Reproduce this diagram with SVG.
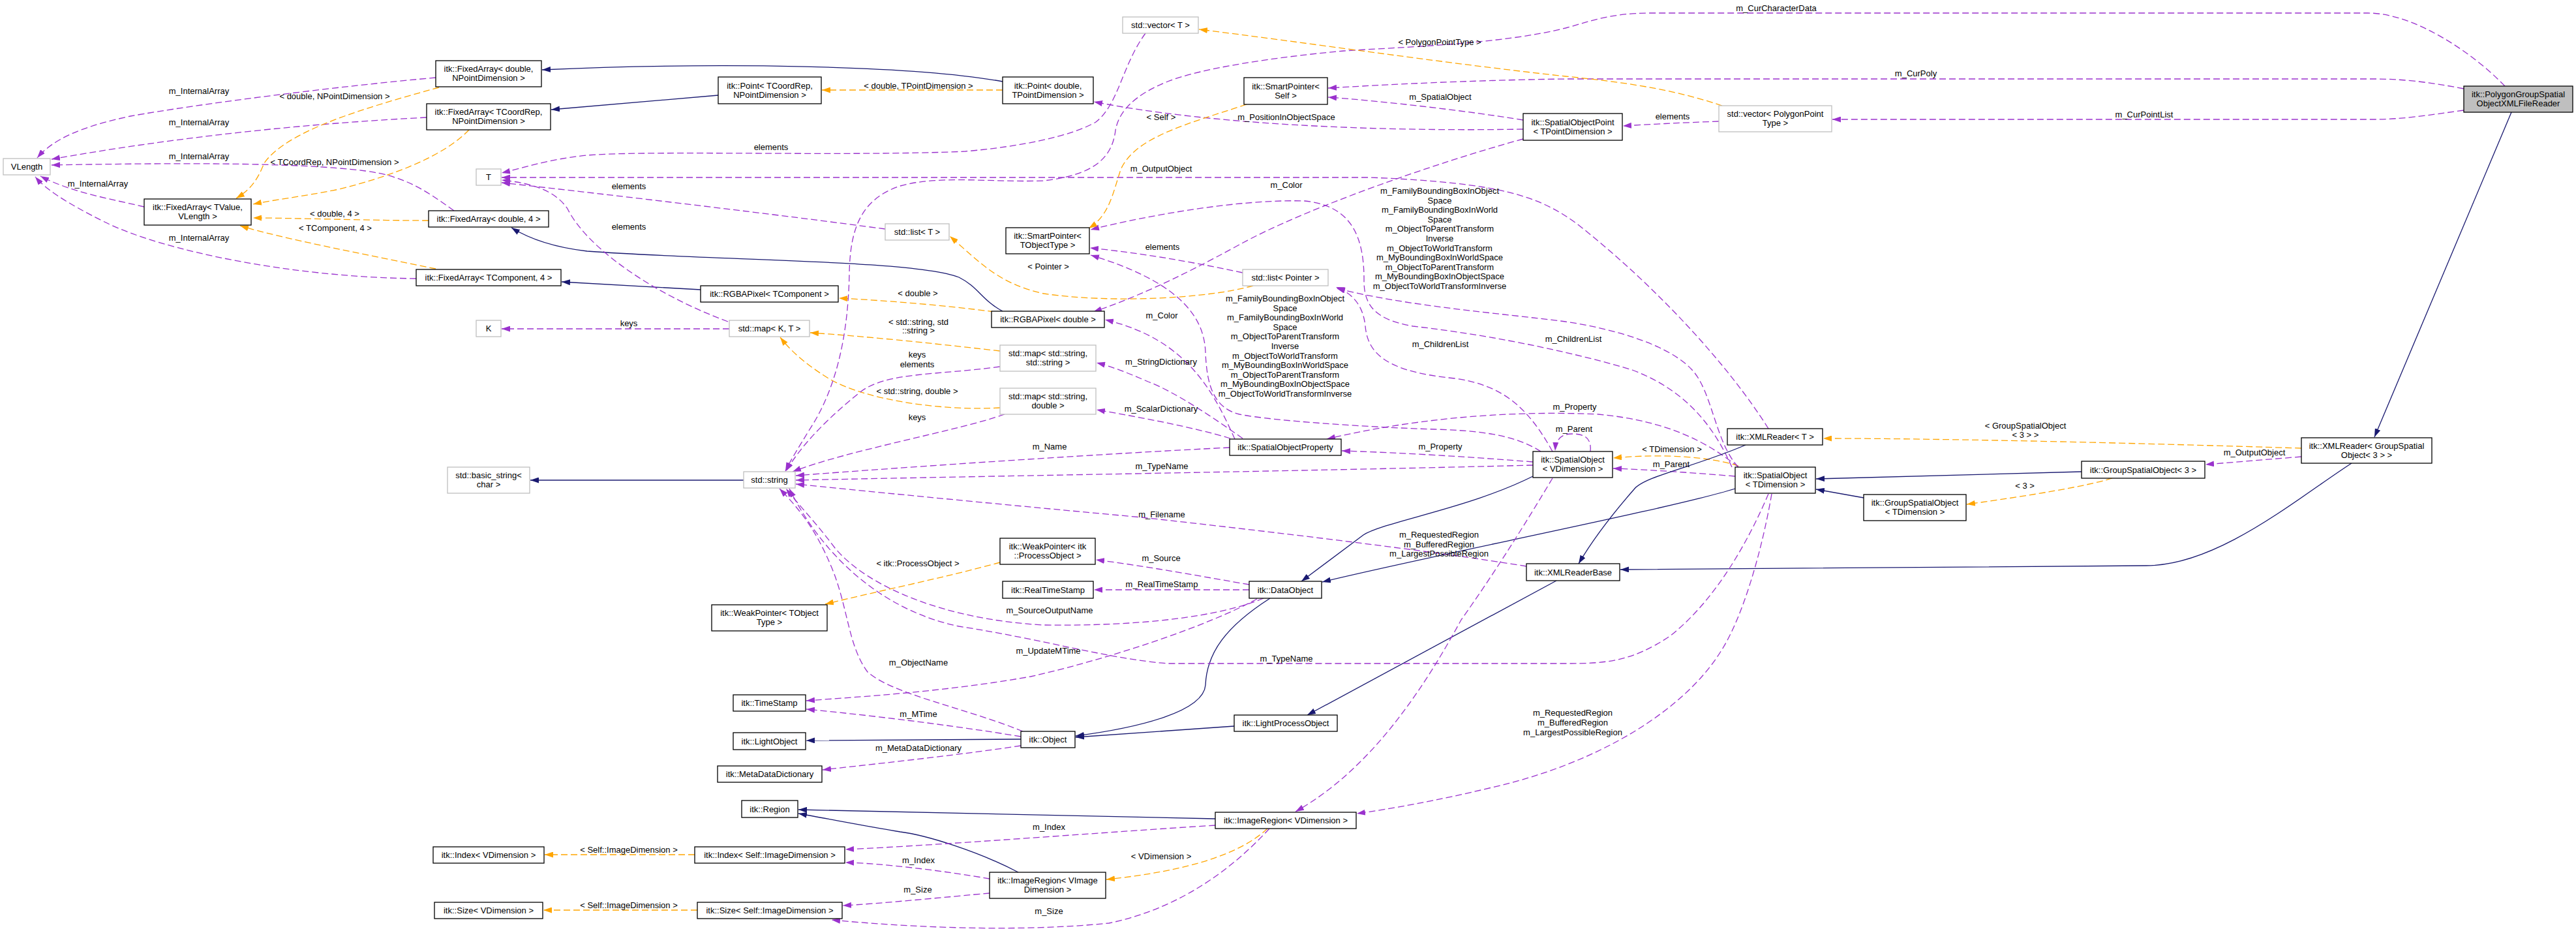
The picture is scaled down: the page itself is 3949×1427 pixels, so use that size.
<svg xmlns="http://www.w3.org/2000/svg" width="3949" height="1427" viewBox="0 0 3949 1427">
<defs>
<style>
text{font-family:"Liberation Sans",Arial,sans-serif;font-size:13px;text-anchor:middle;fill:#000}
.n rect{fill:#fff;stroke:#000;stroke-width:1.3}
.g rect{stroke:#bfbfbf}
.r rect{fill:#bfbfbf}
#edges path{fill:none;stroke-width:1.3}
#edges .u{stroke:#9a32cd;stroke-dasharray:10,5;marker-end:url(#ap)}
#edges .t{stroke:#ffa500;stroke-dasharray:10,5;marker-end:url(#ao)}
#edges .i{stroke:#191970;marker-end:url(#ab)}
</style>
<marker id="ap" viewBox="0 0 13 9" refX="13" refY="4.5" markerWidth="13" markerHeight="9" markerUnits="userSpaceOnUse" orient="auto"><path d="M0,0 L13,4.5 L0,9 z" fill="#9a32cd"/></marker>
<marker id="ao" viewBox="0 0 13 9" refX="13" refY="4.5" markerWidth="13" markerHeight="9" markerUnits="userSpaceOnUse" orient="auto"><path d="M0,0 L13,4.5 L0,9 z" fill="#ffa500"/></marker>
<marker id="ab" viewBox="0 0 13 9" refX="13" refY="4.5" markerWidth="13" markerHeight="9" markerUnits="userSpaceOnUse" orient="auto"><path d="M0,0 L13,4.5 L0,9 z" fill="#191970"/></marker>
</defs>
<rect width="3949" height="1427" fill="#fff"/>
<g id="edges">
<path class="u" d="M668,119 C520,132 300,160 200,178 C120,195 80,215 57,242"/>
<path class="u" d="M654,180 C500,188 300,205 79,244"/>
<path class="u" d="M696,323 C650,290 620,270 560,262 C450,248 250,250 79,253"/>
<path class="u" d="M221,317 C170,305 110,295 62,270"/>
<path class="u" d="M638,427 C450,425 250,385 160,340 C100,310 70,290 54,271"/>
<path class="t" d="M673,134 C560,165 440,200 405,250 C395,275 385,290 362,304"/>
<path class="t" d="M719,199 C680,240 600,270 520,290 C460,302 420,306 388,313"/>
<path class="t" d="M657,338 C560,338 450,334 388,334"/>
<path class="t" d="M668,412 C560,390 430,365 368,346"/>
<path class="i" d="M1537,125 C1400,100 1100,95 831,107"/>
<path class="i" d="M1101,146 L845,168"/>
<path class="t" d="M1537,138 L1260,138"/>
<path class="i" d="M1537,477 C1505,460 1500,440 1470,425 C1400,398 1100,400 900,385 C840,378 805,362 784,349"/>
<path class="i" d="M1074,444 L861,432"/>
<path class="t" d="M1524,478 C1450,468 1350,460 1286,457"/>
<path class="u" d="M1756,51 C1720,100 1715,160 1680,187 C1640,210 1560,225 1480,232 C1300,240 1000,230 900,238 C840,244 800,258 769,265"/>
<path class="u" d="M1357,351 C1200,330 950,300 769,280"/>
<path class="u" d="M1116,493 C1000,450 900,380 870,320 C850,290 810,280 769,276"/>
<path class="u" d="M2711,657 C2650,560 2540,440 2420,345 C2360,300 2300,280 2100,272 L769,272"/>
<path class="u" d="M1118,504 L769,504"/>
<path class="t" d="M1533,538 C1420,525 1320,515 1242,510"/>
<path class="t" d="M1533,625 C1450,630 1330,615 1270,580 C1230,555 1210,535 1196,517"/>
<path class="u" d="M1533,562 C1440,575 1360,570 1320,600 C1270,640 1230,680 1205,722"/>
<path class="u" d="M1540,635 C1470,660 1300,690 1215,723"/>
<path class="u" d="M3840,132 C3790,80 3700,20 3630,20 L2530,20 C2470,20 2440,32 2400,43 C2300,68 2150,72 2060,78 C1950,88 1840,105 1790,125 C1740,145 1715,170 1710,200 C1705,240 1680,268 1600,277 C1520,280 1440,268 1380,285 C1320,305 1303,350 1302,420 C1300,520 1280,600 1240,660 C1225,685 1212,705 1204,722"/>
<path class="u" d="M1885,686 C1700,695 1400,715 1220,729"/>
<path class="u" d="M2350,713 C2000,722 1500,730 1220,736"/>
<path class="u" d="M1905,672 C1860,640 1800,600 1760,585 C1730,572 1705,562 1681,556"/>
<path class="u" d="M1886,672 C1830,655 1750,640 1681,628"/>
<path class="u" d="M2350,708 C2250,700 2150,694 2057,691"/>
<path class="u" d="M2665,716 C2620,680 2560,645 2450,635 C2300,628 2150,645 2034,673"/>
<path class="u" d="M2438,692 C2440,672 2430,665 2410,665 C2392,665 2385,675 2384,691"/>
<path class="u" d="M2660,730 C2600,725 2530,720 2473,718"/>
<path class="t" d="M2665,714 C2620,700 2550,695 2473,702"/>
<path class="u" d="M2655,716 C2630,660 2590,600 2502,567 C2430,545 2300,515 2166,500 C2110,490 2092,470 2091,433 C2092,360 2070,315 2000,308 C1900,305 1760,330 1672,352"/>
<path class="u" d="M2380,692 C2340,620 2300,590 2230,580 C2130,570 2097,545 2093,500 C2090,470 2075,450 2048,440"/>
<path class="u" d="M2665,716 C2630,680 2625,600 2594,567 C2560,530 2480,505 2400,493 C2300,480 2160,470 2049,442"/>
<path class="u" d="M2362,692 C2320,665 2263,660 2200,658 C2100,655 1950,645 1900,635 C1860,625 1850,590 1848,540 C1846,480 1800,430 1672,391"/>
<path class="u" d="M2335,184 C2250,170 2120,155 2036,149"/>
<path class="u" d="M3777,136 C3720,125 3680,121 3640,121 L2400,121 C2250,123 2120,130 2036,135"/>
<path class="u" d="M2335,198 C2100,202 1850,190 1677,156"/>
<path class="t" d="M1911,160 C1820,190 1740,210 1718,260 C1705,300 1700,330 1669,350"/>
<path class="t" d="M1921,438 C1850,458 1700,465 1600,450 C1530,435 1500,400 1456,362"/>
<path class="u" d="M1905,418 C1820,400 1750,388 1671,380"/>
<path class="u" d="M2335,213 C2200,250 2000,320 1900,375 C1800,430 1730,460 1676,478"/>
<path class="u" d="M1893,673 C1860,600 1820,520 1694,490"/>
<path class="u" d="M3777,169 C3720,177 3680,183 3640,183 L2809,183"/>
<path class="u" d="M2635,186 C2580,188 2540,190 2488,193"/>
<path class="t" d="M2640,162 C2560,135 2480,125 2400,117 C2200,95 2000,65 1838,45"/>
<path class="i" d="M3850,172 L3640,670"/>
<path class="i" d="M3605,710 C3520,765 3400,867 3290,867 L2484,873"/>
<path class="t" d="M3528,687 C3300,680 3000,672 2795,672"/>
<path class="u" d="M3528,700 L3381,712"/>
<path class="t" d="M3238,733 C3200,745 3110,760 3015,773"/>
<path class="i" d="M3191,723 L2784,734"/>
<path class="i" d="M2857,763 L2784,750"/>
<path class="i" d="M2676,682 C2600,715 2520,730 2505,750 C2470,790 2440,830 2420,864"/>
<path class="i" d="M2660,749 C2560,780 2200,850 2027,892"/>
<path class="i" d="M2350,730 C2250,780 2120,800 2090,820 C2050,850 2010,880 1995,891"/>
<path class="i" d="M2386,890 L2004,1096"/>
<path class="i" d="M1892,1113 L1649,1130"/>
<path class="i" d="M1947,917 C1880,960 1850,1000 1848,1050 C1845,1090 1750,1115 1649,1128"/>
<path class="i" d="M1565,1133 L1236,1135"/>
<path class="u" d="M1565,1129 C1450,1110 1320,1095 1236,1087"/>
<path class="u" d="M1565,1143 C1450,1160 1330,1172 1261,1180"/>
<path class="u" d="M1927,918 C1850,960 1700,1010 1580,1037 C1450,1060 1320,1068 1236,1074"/>
<path class="u" d="M1568,1121 C1480,1085 1370,1065 1330,1030 C1300,990 1300,930 1275,870 C1250,810 1225,780 1195,749"/>
<path class="u" d="M1937,917 C1870,945 1750,960 1600,958 C1450,950 1330,900 1280,840 C1250,800 1225,775 1205,749"/>
<path class="u" d="M1915,896 C1850,885 1760,868 1680,858"/>
<path class="u" d="M1915,904 L1677,904"/>
<path class="t" d="M1533,862 C1450,885 1350,905 1265,926"/>
<path class="u" d="M2340,868 C2200,845 1950,815 1750,793 C1500,770 1300,750 1220,742"/>
<path class="u" d="M2711,757 C2680,830 2630,920 2560,975 C2500,1015 2460,1017 2400,1017 L1790,1017 C1700,1010 1600,980 1470,960 C1350,935 1260,850 1210,749"/>
<path class="u" d="M2380,733 C2340,800 2290,880 2240,950 C2180,1060 2100,1180 1986,1244"/>
<path class="u" d="M2716,757 C2700,850 2670,950 2637,1000 C2580,1090 2450,1170 2287,1207 C2200,1228 2130,1240 2080,1247"/>
<path class="i" d="M1863,1255 L1224,1241"/>
<path class="i" d="M1561,1337 C1500,1305 1420,1280 1380,1275 C1320,1265 1270,1255 1224,1247"/>
<path class="u" d="M1863,1265 C1700,1275 1450,1295 1296,1302"/>
<path class="u" d="M1517,1347 C1450,1335 1350,1323 1296,1322"/>
<path class="u" d="M1517,1369 C1450,1375 1350,1385 1292,1388"/>
<path class="u" d="M1946,1270 C1900,1320 1820,1390 1700,1415 C1550,1430 1380,1420 1275,1410"/>
<path class="t" d="M1943,1270 C1900,1310 1820,1335 1696,1348"/>
<path class="t" d="M1065,1310 L835,1310"/>
<path class="t" d="M1069,1395 L833,1395"/>
<path class="i" d="M1140,736 L813,736"/>
<text x="305" y="144">m_InternalArray</text>
<text x="305" y="192">m_InternalArray</text>
<text x="305" y="244">m_InternalArray</text>
<text x="150" y="286">m_InternalArray</text>
<text x="305" y="369">m_InternalArray</text>
<text x="513" y="152">&lt; double, NPointDimension &gt;</text>
<text x="513" y="253">&lt; TCoordRep, NPointDimension &gt;</text>
<text x="513" y="332">&lt; double, 4 &gt;</text>
<text x="514" y="354">&lt; TComponent, 4 &gt;</text>
<text x="1408" y="136">&lt; double, TPointDimension &gt;</text>
<text x="1407" y="454">&lt; double &gt;</text>
<text x="1182" y="230">elements</text>
<text x="964" y="290">elements</text>
<text x="964" y="352">elements</text>
<text x="964" y="500">keys</text>
<text x="1408" y="498">&lt; std::string, std</text>
<text x="1408" y="511">::string &gt;</text>
<text x="1406" y="548">keys</text>
<text x="1406" y="563">elements</text>
<text x="1406" y="604">&lt; std::string, double &gt;</text>
<text x="1406" y="644">keys</text>
<text x="1609" y="689">m_Name</text>
<text x="1781" y="719">m_TypeName</text>
<text x="1780" y="559">m_StringDictionary</text>
<text x="1780" y="631">m_ScalarDictionary</text>
<text x="2208" y="689">m_Property</text>
<text x="2414" y="628">m_Property</text>
<text x="2413" y="662">m_Parent</text>
<text x="2562" y="716">m_Parent</text>
<text x="2563" y="693">&lt; TDimension &gt;</text>
<text x="2208" y="532">m_ChildrenList</text>
<text x="2412" y="524">m_ChildrenList</text>
<text x="2208" y="153">m_SpatialObject</text>
<text x="1780" y="184">&lt; Self &gt;</text>
<text x="1972" y="184">m_PositionInObjectSpace</text>
<text x="1780" y="263">m_OutputObject</text>
<text x="1972" y="288">m_Color</text>
<text x="1782" y="383">elements</text>
<text x="1607" y="413">&lt; Pointer &gt;</text>
<text x="1781" y="488">m_Color</text>
<text x="2207" y="69">&lt; PolygonPointType &gt;</text>
<text x="2723" y="17">m_CurCharacterData</text>
<text x="2937" y="117">m_CurPoly</text>
<text x="2564" y="183">elements</text>
<text x="3287" y="180">m_CurPointList</text>
<text x="3105" y="657">&lt; GroupSpatialObject</text>
<text x="3105" y="671">&lt; 3 &gt; &gt;</text>
<text x="3104" y="749">&lt; 3 &gt;</text>
<text x="3456" y="698">m_OutputObject</text>
<text x="1781" y="793">m_Filename</text>
<text x="2206" y="824">m_RequestedRegion</text>
<text x="2206" y="839">m_BufferedRegion</text>
<text x="2206" y="853">m_LargestPossibleRegion</text>
<text x="2411" y="1097">m_RequestedRegion</text>
<text x="2411" y="1112">m_BufferedRegion</text>
<text x="2411" y="1127">m_LargestPossibleRegion</text>
<text x="1780" y="860">m_Source</text>
<text x="1781" y="900">m_RealTimeStamp</text>
<text x="1407" y="868">&lt; itk::ProcessObject &gt;</text>
<text x="1609" y="940">m_SourceOutputName</text>
<text x="1607" y="1002">m_UpdateMTime</text>
<text x="1972" y="1014">m_TypeName</text>
<text x="1408" y="1020">m_ObjectName</text>
<text x="1408" y="1099">m_MTime</text>
<text x="1408" y="1151">m_MetaDataDictionary</text>
<text x="1608" y="1272">m_Index</text>
<text x="1408" y="1323">m_Index</text>
<text x="1407" y="1368">m_Size</text>
<text x="1608" y="1401">m_Size</text>
<text x="1780" y="1317">&lt; VDimension &gt;</text>
<text x="964" y="1307">&lt; Self::ImageDimension &gt;</text>
<text x="964" y="1392">&lt; Self::ImageDimension &gt;</text>
<g>
<text x="2207" y="297">m_FamilyBoundingBoxInObject</text>
<text x="2207" y="311.6">Space</text>
<text x="2207" y="326.2">m_FamilyBoundingBoxInWorld</text>
<text x="2207" y="340.8">Space</text>
<text x="2207" y="355.4">m_ObjectToParentTransform</text>
<text x="2207" y="370">Inverse</text>
<text x="2207" y="384.6">m_ObjectToWorldTransform</text>
<text x="2207" y="399.2">m_MyBoundingBoxInWorldSpace</text>
<text x="2207" y="413.8">m_ObjectToParentTransform</text>
<text x="2207" y="428.4">m_MyBoundingBoxInObjectSpace</text>
<text x="2207" y="443">m_ObjectToWorldTransformInverse</text>
<text x="1970" y="462">m_FamilyBoundingBoxInObject</text>
<text x="1970" y="476.6">Space</text>
<text x="1970" y="491.2">m_FamilyBoundingBoxInWorld</text>
<text x="1970" y="505.8">Space</text>
<text x="1970" y="520.4">m_ObjectToParentTransform</text>
<text x="1970" y="535">Inverse</text>
<text x="1970" y="549.6">m_ObjectToWorldTransform</text>
<text x="1970" y="564.2">m_MyBoundingBoxInWorldSpace</text>
<text x="1970" y="578.8">m_ObjectToParentTransform</text>
<text x="1970" y="593.4">m_MyBoundingBoxInObjectSpace</text>
<text x="1970" y="608">m_ObjectToWorldTransformInverse</text>
</g>
</g>
<g id="n_vlength" class="n g"><rect x="5" y="243" width="72" height="25"/><text x="41" y="260">VLength</text></g>
<g id="n_fa_tvalue" class="n"><rect x="221" y="305" width="164" height="40"/><text x="303" y="322">itk::FixedArray&lt; TValue,</text><text x="303" y="336">VLength &gt;</text></g>
<g id="n_fa_double_npd" class="n"><rect x="668" y="93" width="162" height="40"/><text x="749" y="110">itk::FixedArray&lt; double,</text><text x="749" y="124">NPointDimension &gt;</text></g>
<g id="n_fa_tcoordrep" class="n"><rect x="654" y="159" width="190" height="40"/><text x="749" y="176">itk::FixedArray&lt; TCoordRep,</text><text x="749" y="190">NPointDimension &gt;</text></g>
<g id="n_t" class="n g"><rect x="730" y="259" width="38" height="25"/><text x="749" y="276">T</text></g>
<g id="n_fa_double4" class="n"><rect x="657" y="323" width="184" height="25"/><text x="749" y="340">itk::FixedArray&lt; double, 4 &gt;</text></g>
<g id="n_fa_tcomponent4" class="n"><rect x="638" y="413" width="222" height="25"/><text x="749" y="430">itk::FixedArray&lt; TComponent, 4 &gt;</text></g>
<g id="n_k" class="n g"><rect x="730" y="491" width="38" height="25"/><text x="749" y="508">K</text></g>
<g id="n_basic_string" class="n g"><rect x="686" y="716" width="126" height="40"/><text x="749" y="733">std::basic_string&lt;</text><text x="749" y="747">char &gt;</text></g>
<g id="n_point_tcoordrep" class="n"><rect x="1101" y="118" width="158" height="41"/><text x="1180" y="135.5">itk::Point&lt; TCoordRep,</text><text x="1180" y="149.5">NPointDimension &gt;</text></g>
<g id="n_point_double" class="n"><rect x="1537" y="118" width="139" height="41"/><text x="1606.5" y="135.5">itk::Point&lt; double,</text><text x="1606.5" y="149.5">TPointDimension &gt;</text></g>
<g id="n_list_t" class="n g"><rect x="1357" y="343" width="98" height="25"/><text x="1406" y="360">std::list&lt; T &gt;</text></g>
<g id="n_rgba_tcomponent" class="n"><rect x="1074" y="438" width="211" height="25"/><text x="1179.5" y="455">itk::RGBAPixel&lt; TComponent &gt;</text></g>
<g id="n_rgba_double" class="n"><rect x="1520" y="477" width="173" height="25"/><text x="1606.5" y="494">itk::RGBAPixel&lt; double &gt;</text></g>
<g id="n_map_kt" class="n g"><rect x="1118" y="491" width="123" height="25"/><text x="1179.5" y="508">std::map&lt; K, T &gt;</text></g>
<g id="n_sp_tobjecttype" class="n"><rect x="1542" y="349" width="128" height="40"/><text x="1606" y="366">itk::SmartPointer&lt;</text><text x="1606" y="380">TObjectType &gt;</text></g>
<g id="n_vector_t" class="n g"><rect x="1721" y="26" width="116" height="25"/><text x="1779" y="43">std::vector&lt; T &gt;</text></g>
<g id="n_sp_self" class="n"><rect x="1907" y="119" width="128" height="41"/><text x="1971" y="136.5">itk::SmartPointer&lt;</text><text x="1971" y="150.5">Self &gt;</text></g>
<g id="n_spatialobjectpoint" class="n"><rect x="2335" y="174" width="152" height="41"/><text x="2411" y="191.5">itk::SpatialObjectPoint</text><text x="2411" y="205.5">&lt; TPointDimension &gt;</text></g>
<g id="n_list_pointer" class="n g"><rect x="1905" y="413" width="131" height="25"/><text x="1970.5" y="430">std::list&lt; Pointer &gt;</text></g>
<g id="n_vector_ppt" class="n g"><rect x="2635" y="162" width="173" height="40"/><text x="2721.5" y="179">std::vector&lt; PolygonPoint</text><text x="2721.5" y="193">Type &gt;</text></g>
<g id="n_polygonreader" class="n r"><rect x="3777" y="132" width="167" height="40"/><text x="3860.5" y="149">itk::PolygonGroupSpatial</text><text x="3860.5" y="163">ObjectXMLFileReader</text></g>
<g id="n_sop" class="n"><rect x="1885" y="673" width="171" height="25"/><text x="1970.5" y="690">itk::SpatialObjectProperty</text></g>
<g id="n_map_ss" class="n g"><rect x="1533" y="529" width="147" height="40"/><text x="1606.5" y="546">std::map&lt; std::string,</text><text x="1606.5" y="560">std::string &gt;</text></g>
<g id="n_map_sd" class="n g"><rect x="1533" y="595" width="147" height="40"/><text x="1606.5" y="612">std::map&lt; std::string,</text><text x="1606.5" y="626">double &gt;</text></g>
<g id="n_string" class="n g"><rect x="1140" y="723" width="79" height="25"/><text x="1179.5" y="740">std::string</text></g>
<g id="n_wp_tobjecttype" class="n"><rect x="1091" y="927" width="177" height="40"/><text x="1179.5" y="944">itk::WeakPointer&lt; TObject</text><text x="1179.5" y="958">Type &gt;</text></g>
<g id="n_wp_processobject" class="n"><rect x="1533" y="825" width="146" height="40"/><text x="1606" y="842">itk::WeakPointer&lt; itk</text><text x="1606" y="856">::ProcessObject &gt;</text></g>
<g id="n_realtimestamp" class="n"><rect x="1537" y="891" width="139" height="26"/><text x="1606.5" y="908.5">itk::RealTimeStamp</text></g>
<g id="n_dataobject" class="n"><rect x="1915" y="891" width="111" height="26"/><text x="1970.5" y="908.5">itk::DataObject</text></g>
<g id="n_so_vdimension" class="n"><rect x="2350" y="692" width="122" height="40"/><text x="2411" y="709">itk::SpatialObject</text><text x="2411" y="723">&lt; VDimension &gt;</text></g>
<g id="n_xmlreader_t" class="n"><rect x="2648" y="657" width="146" height="25"/><text x="2721" y="674">itk::XMLReader&lt; T &gt;</text></g>
<g id="n_so_tdimension" class="n"><rect x="2660" y="716" width="123" height="40"/><text x="2721.5" y="733">itk::SpatialObject</text><text x="2721.5" y="747">&lt; TDimension &gt;</text></g>
<g id="n_gso_tdimension" class="n"><rect x="2857" y="758" width="157" height="40"/><text x="2935.5" y="775">itk::GroupSpatialObject</text><text x="2935.5" y="789">&lt; TDimension &gt;</text></g>
<g id="n_xmlreaderbase" class="n"><rect x="2340" y="864" width="143" height="26"/><text x="2411.5" y="881.5">itk::XMLReaderBase</text></g>
<g id="n_gso_3" class="n"><rect x="3191" y="707" width="189" height="26"/><text x="3285.5" y="724.5">itk::GroupSpatialObject&lt; 3 &gt;</text></g>
<g id="n_xmlreader_gso" class="n"><rect x="3528" y="671" width="200" height="39"/><text x="3628" y="687.5">itk::XMLReader&lt; GroupSpatial</text><text x="3628" y="701.5">Object&lt; 3 &gt; &gt;</text></g>
<g id="n_timestamp" class="n"><rect x="1124" y="1065" width="111" height="25"/><text x="1179.5" y="1082">itk::TimeStamp</text></g>
<g id="n_lightobject" class="n"><rect x="1124" y="1123" width="111" height="26"/><text x="1179.5" y="1140.5">itk::LightObject</text></g>
<g id="n_metadatadictionary" class="n"><rect x="1100" y="1174" width="160" height="25"/><text x="1180" y="1191">itk::MetaDataDictionary</text></g>
<g id="n_object" class="n"><rect x="1565" y="1121" width="83" height="25"/><text x="1606.5" y="1138">itk::Object</text></g>
<g id="n_lightprocessobject" class="n"><rect x="1892" y="1096" width="158" height="25"/><text x="1971" y="1113">itk::LightProcessObject</text></g>
<g id="n_region" class="n"><rect x="1137" y="1227" width="86" height="26"/><text x="1180" y="1244.5">itk::Region</text></g>
<g id="n_imageregion_v" class="n"><rect x="1863" y="1245" width="216" height="25"/><text x="1971" y="1262">itk::ImageRegion&lt; VDimension &gt;</text></g>
<g id="n_index_self" class="n"><rect x="1065" y="1298" width="230" height="25"/><text x="1180" y="1315">itk::Index&lt; Self::ImageDimension &gt;</text></g>
<g id="n_size_self" class="n"><rect x="1069" y="1383" width="222" height="25"/><text x="1180" y="1400">itk::Size&lt; Self::ImageDimension &gt;</text></g>
<g id="n_imageregion_vi" class="n"><rect x="1517" y="1337" width="178" height="40"/><text x="1606" y="1354">itk::ImageRegion&lt; VImage</text><text x="1606" y="1368">Dimension &gt;</text></g>
<g id="n_index_v" class="n"><rect x="664" y="1298" width="170" height="25"/><text x="749" y="1315">itk::Index&lt; VDimension &gt;</text></g>
<g id="n_size_v" class="n"><rect x="666" y="1383" width="166" height="25"/><text x="749" y="1400">itk::Size&lt; VDimension &gt;</text></g>
</svg>
